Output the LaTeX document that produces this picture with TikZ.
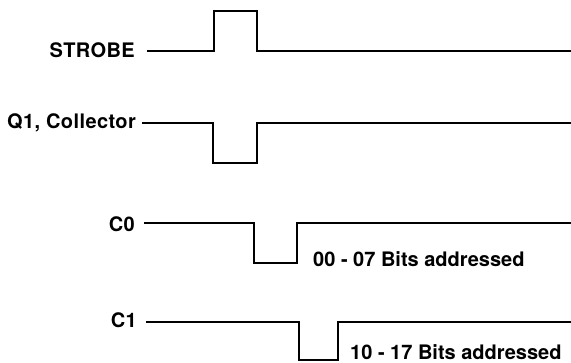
\documentclass[tikz,border=0pt]{standalone}
\usepackage{fontspec}
\setmainfont{TeX Gyre Heros}
\newfontfamily\widelabel[LetterSpace=2]{TeX Gyre Heros}
\usepackage{tikz}
\tikzset{
	sig/.style={font=\fontsize{20}{24}\selectfont\bfseries, inner sep=0pt},
	signame/.style={sig, font=\widelabel\fontsize{20}{24}\selectfont\bfseries},
	wave/.style={line width=1.3pt, line join=miter}
}

\begin{document}
\begin{tikzpicture}[x=1pt, y=-1pt]
			%%%%% START %%%%%
			
			\useasboundingbox (0, 0) rectangle (571, 362);
			
			\node[signame, anchor=base east] (strobe) at (135, 57) {STROBE};
			\coordinate (strobeEnd) at (571, 51);
			\draw[wave] (147, 51) -- (214, 51) -- (214, 11) -- (257, 11) -- (257, 51) -- (strobeEnd);
			
			\node[signame, anchor=base east] (qone) at (136, 128) {Q1, Collector};
			\coordinate (qoneEnd) at (571, 123);
			\draw[wave] (142, 123) -- (213, 123) -- (213, 163) -- (257, 163) -- (257, 123) -- (qoneEnd);
			
			\node[signame, anchor=base east] (czero) at (135, 231) {C0};
			\coordinate (czeroEnd) at (571, 223);
			\draw[wave] (144, 223) -- (254, 223) -- (254, 263) -- (297, 263) -- (297, 223) -- (czeroEnd);
			\node[sig, anchor=base west] (czeroBits) at (313, 266) {00 - 07 Bits addressed};
			
			\node[signame, anchor=base east] (cone) at (137, 327) {C1};
			\coordinate (coneEnd) at (571, 322);
			\draw[wave] (146, 322) -- (299, 322) -- (299, 360) -- (338, 360) -- (338, 322) -- (coneEnd);
			\node[sig, anchor=base west] (coneBits) at (350, 359) {10 - 17 Bits addressed};
			
			%%%%% END %%%%%
		\end{tikzpicture}
\end{document}
